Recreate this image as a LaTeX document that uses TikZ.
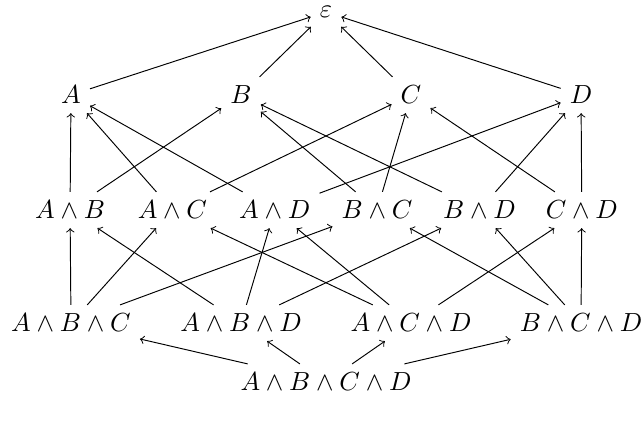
\documentclass[tikz,border=0pt,11pt]{standalone}
\usepackage{amsmath, tikz}
\tikzstyle{term} = [text centered]
\tikzstyle{cover} = [->, thin]

\begin{document}
\begin{tikzpicture}[node distance = 2.5cm]
\useasboundingbox (0,0) rectangle (9.426,-6.235);
\node (eps) [term] at (4.794,-0.176) {$\varepsilon$};

\node (a) [term] at (1.044,-1.397) {$A$};
\node (b) [term, right of = a] {$B$};
\node (c) [term, right of = b] {$C$};
\node (d) [term, right of = c] {$D$};

\node (ab) [term] at (1.03,-3.088) {$A \wedge B$};
\node (ac) [term, right of = ab, node distance = 1.505cm] {$A \wedge C$};
\node (ad) [term, right of = ac, node distance = 1.505cm] {$A \wedge D$};
\node (bc) [term, right of = ad, node distance = 1.505cm] {$B \wedge C$};
\node (bd) [term, right of = bc, node distance = 1.505cm] {$B \wedge D$};
\node (cd) [term, right of = bd, node distance = 1.505cm] {$C \wedge D$};

\node (abc) [term] at (1.044,-4.75) {$A \wedge B \wedge C$};
\node (abd) [term, right of = abc] {$A \wedge B \wedge D$};
\node (acd) [term, right of = abd] {$A \wedge C \wedge D$};
\node (bcd) [term, right of = acd] {$B \wedge C \wedge D$};

\node (abcd) [term] at (4.794,-5.618) {$A \wedge B \wedge C \wedge D$};

\draw [cover] (a) -- (eps);
\draw [cover] (b) -- (eps);
\draw [cover] (c) -- (eps);
\draw [cover] (d) -- (eps);

\draw [cover] (ab) -- (a);
\draw [cover] (ab) -- (b);
\draw [cover] (ac) -- (a);
\draw [cover] (ac) -- (c);
\draw [cover] (ad) -- (a);
\draw [cover] (ad) -- (d);
\draw [cover] (bc) -- (b);
\draw [cover] (bc) -- (c);
\draw [cover] (bd) -- (b);
\draw [cover] (bd) -- (d);
\draw [cover] (cd) -- (c);
\draw [cover] (cd) -- (d);

\draw [cover] (abc) -- (ab);
\draw [cover] (abc) -- (ac);
\draw [cover] (abc) -- (bc);
\draw [cover] (abd) -- (ab);
\draw [cover] (abd) -- (ad);
\draw [cover] (abd) -- (bd);
\draw [cover] (acd) -- (ac);
\draw [cover] (acd) -- (ad);
\draw [cover] (acd) -- (cd);
\draw [cover] (bcd) -- (bc);
\draw [cover] (bcd) -- (bd);
\draw [cover] (bcd) -- (cd);

\draw [cover] (abcd) -- (abc);
\draw [cover] (abcd) -- (abd);
\draw [cover] (abcd) -- (acd);
\draw [cover] (abcd) -- (bcd);
\end{tikzpicture}
\end{document}
